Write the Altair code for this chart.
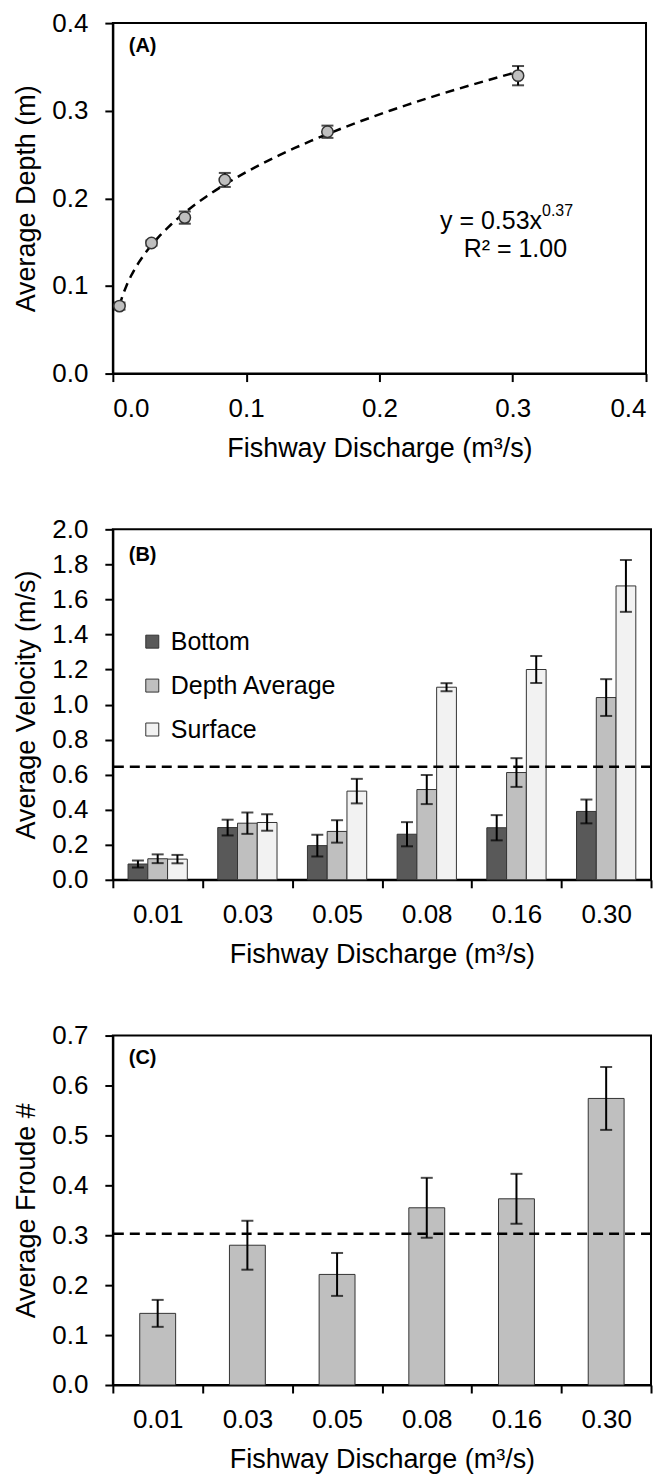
import altair as alt
import pandas as pd

# ---------------- Panel A data ----------------
q_a = [0.005, 0.029, 0.054, 0.084, 0.161, 0.304]
depth = [0.077, 0.149, 0.178, 0.221, 0.276, 0.340]
depth_err = [0.004, 0.003, 0.007, 0.008, 0.007, 0.011]

# ---------------- Panel B data ----------------
cats = ["0.01", "0.03", "0.05", "0.08", "0.16", "0.30"]
series = ["Bottom", "Depth Average", "Surface"]
series_colors = ["#595959", "#bfbfbf", "#f2f2f2"]
v_bottom = [0.09, 0.298, 0.195, 0.26, 0.297, 0.39]
v_depth = [0.12, 0.323, 0.276, 0.515, 0.612, 1.04]
v_surface = [0.118, 0.327, 0.506, 1.099, 1.20, 1.677]
e_bottom = [0.02, 0.045, 0.062, 0.069, 0.072, 0.068]
e_depth = [0.025, 0.061, 0.064, 0.083, 0.082, 0.105]
e_surface = [0.024, 0.047, 0.070, 0.023, 0.077, 0.148]
v_threshold = 0.645
v_ticks = [0.0, 0.2, 0.4, 0.6, 0.8, 1.0, 1.2, 1.4, 1.6, 1.8, 2.0]

# ---------------- Panel C data ----------------
froude = [0.1435, 0.28, 0.2215, 0.355, 0.373, 0.574]
froude_err = [0.027, 0.049, 0.043, 0.060, 0.050, 0.063]
fr_threshold = 0.303
f_ticks = [0.0, 0.1, 0.2, 0.3, 0.4, 0.5, 0.6, 0.7]

d_ticks = [0.0, 0.1, 0.2, 0.3, 0.4]
x_title = "Fishway Discharge (m³/s)"
FONT = "Liberation Sans"
one = pd.DataFrame({"k": [0]})


def label_text(txt, y):
    return alt.Chart(one).mark_text(align="left", baseline="middle", fontWeight="bold",
                                    fontSize=20, font=FONT, color="black").encode(
        x=alt.value(16), y=alt.value(y), text=alt.value(txt))


# ---------------- Panel A ----------------
dfA = pd.DataFrame({
    "q": q_a,
    "d": depth,
    "lo": [d - e for d, e in zip(depth, depth_err)],
    "hi": [d + e for d, e in zip(depth, depth_err)],
})
scXA = alt.Scale(domain=[0, 0.4], nice=False)
scYA = alt.Scale(domain=[0, 0.4], nice=False)
axXA = alt.Axis(values=d_ticks, format=".1f", title=x_title)
axYA = alt.Axis(values=d_ticks, format=".1f", title="Average Depth (m)", labelOverlap=False)
xA = alt.X("q:Q", scale=scXA, axis=axXA)


def yA(field):
    return alt.Y(field, scale=scYA, axis=axYA)


baseA = alt.Chart(dfA)
fitA = baseA.transform_regression("q", "d", method="pow").mark_line(
    strokeDash=[9, 6], strokeWidth=2.5, color="black").encode(x=xA, y=yA("d:Q"))
errA = baseA.mark_rule(color="black", strokeWidth=2).encode(x=xA, y=yA("lo:Q"), y2="hi:Q")
capLoA = baseA.mark_tick(orient="horizontal", size=12, thickness=2, color="black").encode(x=xA, y=yA("lo:Q"))
capHiA = baseA.mark_tick(orient="horizontal", size=12, thickness=2, color="black").encode(x=xA, y=yA("hi:Q"))
ptsA = baseA.mark_circle(size=130, color="#bfbfbf", stroke="#333333", strokeWidth=1.5, opacity=1).encode(
    x=xA, y=yA("d:Q"))
labA = label_text("(A)", 23)
eqA = alt.Chart(one).mark_text(align="right", baseline="middle", fontSize=25, fontWeight="normal",
                               font=FONT, color="black").encode(
    x=alt.datum(0.322), y=alt.datum(0.174), text=alt.value("y = 0.53x"))
eqSupA = alt.Chart(one).mark_text(align="left", baseline="middle", fontSize=16, fontWeight="normal",
                                  font=FONT, color="black").encode(
    x=alt.datum(0.322), y=alt.datum(0.186), text=alt.value("0.37"))
r2A = alt.Chart(one).mark_text(align="center", baseline="middle", fontSize=25, fontWeight="normal",
                               font=FONT, color="black").encode(
    x=alt.datum(0.302), y=alt.datum(0.142), text=alt.value("R² = 1.00"))

panelA = alt.layer(fitA, errA, capLoA, capHiA, ptsA, labA, eqA, eqSupA, r2A).properties(width=534, height=351)

# ---------------- Panel B ----------------
rows = []
for name, vals, errs in [("Bottom", v_bottom, e_bottom),
                         ("Depth Average", v_depth, e_depth),
                         ("Surface", v_surface, e_surface)]:
    for c, v, e in zip(cats, vals, errs):
        rows.append({"cat": c, "series": name, "v": v, "lo": v - e, "hi": v + e})
dfB = pd.DataFrame(rows)

xB = alt.X("cat:N", sort=cats, scale=alt.Scale(paddingInner=0, paddingOuter=0),
           axis=alt.Axis(tickBand="extent", labelAngle=0, title=x_title))
xoB = alt.XOffset("series:N", sort=series, scale=alt.Scale(paddingInner=0, paddingOuter=0.77))
scYB = alt.Scale(domain=[0, 2], nice=False)
axYB = alt.Axis(values=v_ticks, format=".1f", title="Average Velocity (m/s)",
                labelOverlap=False, tickCount=11)


def yB(field):
    return alt.Y(field, scale=scYB, axis=axYB)


baseB = alt.Chart(dfB)
barsB = baseB.mark_bar(stroke="#333333", strokeWidth=1).encode(
    x=xB, xOffset=xoB, y=yB("v:Q"),
    color=alt.Color("series:N", sort=series,
                    scale=alt.Scale(domain=series, range=series_colors),
                    legend=alt.Legend(title=None, orient="none", legendX=27, legendY=100,
                                      padding=0, rowPadding=18, labelFontSize=25,
                                      symbolType="square", symbolSize=169,
                                      symbolStrokeColor="#333333", symbolStrokeWidth=1,
                                      symbolOpacity=1, labelOffset=6, labelColor="black",
                                      labelLimit=400, labelFont=FONT)))
errB = baseB.mark_rule(color="black", strokeWidth=2).encode(x=xB, xOffset=xoB, y=yB("lo:Q"), y2="hi:Q")
capLoB = baseB.mark_tick(size=12, thickness=2, color="black").encode(x=xB, xOffset=xoB, y=yB("lo:Q"))
capHiB = baseB.mark_tick(size=12, thickness=2, color="black").encode(x=xB, xOffset=xoB, y=yB("hi:Q"))
thrB = alt.Chart(pd.DataFrame({"t": [v_threshold]})).mark_rule(
    strokeDash=[10, 6], strokeWidth=2.5, color="black").encode(y=yB("t:Q"))
labB = label_text("(B)", 26)

panelB = alt.layer(barsB, errB, capLoB, capHiB, thrB, labB).properties(width=539, height=351)

# ---------------- Panel C ----------------
dfC = pd.DataFrame({
    "cat": cats,
    "f": froude,
    "lo": [f - e for f, e in zip(froude, froude_err)],
    "hi": [f + e for f, e in zip(froude, froude_err)],
})
xC = alt.X("cat:N", sort=cats, scale=alt.Scale(paddingInner=0, paddingOuter=0),
           axis=alt.Axis(tickBand="extent", labelAngle=0, title=x_title))
scYC = alt.Scale(domain=[0, 0.7], nice=False)
axYC = alt.Axis(values=f_ticks, format=".1f", title="Average Froude #", labelOverlap=False)


def yC(field):
    return alt.Y(field, scale=scYC, axis=axYC)


baseC = alt.Chart(dfC)
barsC = baseC.mark_bar(width=alt.RelativeBandSize(0.4), color="#bfbfbf",
                       stroke="#333333", strokeWidth=1).encode(x=xC, y=yC("f:Q"))
errC = baseC.mark_rule(color="black", strokeWidth=2).encode(x=xC, y=yC("lo:Q"), y2="hi:Q")
capLoC = baseC.mark_tick(size=12, thickness=2, color="black").encode(x=xC, y=yC("lo:Q"))
capHiC = baseC.mark_tick(size=12, thickness=2, color="black").encode(x=xC, y=yC("hi:Q"))
thrC = alt.Chart(pd.DataFrame({"t": [fr_threshold]})).mark_rule(
    strokeDash=[10, 6], strokeWidth=2.5, color="black").encode(y=yC("t:Q"))
labC = label_text("(C)", 22)

panelC = alt.layer(barsC, errC, capLoC, capHiC, thrC, labC).properties(width=539, height=350)

chart = alt.vconcat(panelA, panelB, panelC, spacing=53).resolve_legend(
    color="independent"
).resolve_scale(
    color="independent"
).configure(
    font=FONT,
    padding={"left": 4, "top": 0, "right": 5, "bottom": 0},
).configure_view(
    stroke="black", strokeWidth=2
).configure_axis(
    domainColor="black", domainWidth=2, tickColor="black", tickWidth=2, tickSize=8,
    labelFontSize=26, titleFontSize=27, labelColor="black", titleColor="black",
    titleFontWeight="normal", grid=False, labelFont=FONT, titleFont=FONT,
    labelOverlap=False,
).configure_axisY(
    labelPadding=17, titlePadding=12, minExtent=60, maxExtent=60
).configure_axisX(
    labelPadding=14, titlePadding=14, labelAngle=0
)

chart.save("out.html", embed_options={"renderer": "svg", "actions": False})
